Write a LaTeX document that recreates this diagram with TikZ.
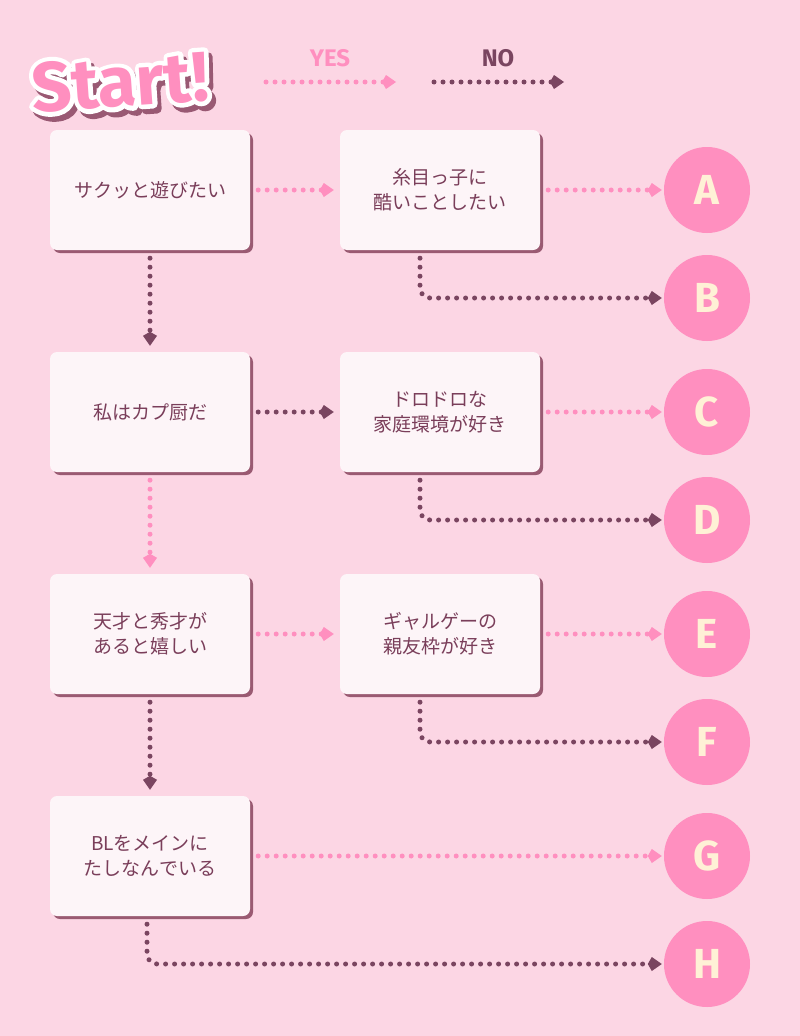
\documentclass[tikz,border=0pt]{standalone}
\usepackage{fontspec}
\setmainfont{Noto Sans CJK JP}
\newfontfamily\roundfont{Fira Sans}
\usetikzlibrary{arrows.meta,positioning,calc}
\definecolor{bgpink}{HTML}{FCD6E4}
\definecolor{yespink}{HTML}{FF8FBF}
\definecolor{nodark}{HTML}{7A4560}
\definecolor{boxfill}{HTML}{FDF5F8}
\definecolor{shadowc}{HTML}{9A5A72}
\definecolor{txtc}{HTML}{7A3E5A}
\definecolor{cream}{HTML}{FFF1D6}
% stroked text: #1 mode, #2 width, #3 stroke rgb, #4 text
\newcommand\strokedtext[4]{\special{pdf:code q #1 Tr #2 w #3 RG 1 j}#4\special{pdf:code Q}}

\begin{document}
\begin{tikzpicture}
    [x=1pt,y=-1pt,
    question/.style={draw=none, fill=boxfill, rounded corners=7pt,
      minimum width=200pt, minimum height=120pt, align=center,
      text=txtc, font=\fontsize{19}{25}\selectfont},
    boxshadow/.style={fill=shadowc, rounded corners=7pt},
    answer/.style={circle, fill=yespink, minimum size=86pt, inner sep=0pt,
      text=cream, font=\roundfont\bfseries\fontsize{42}{42}\selectfont},
    logofont/.style={font=\roundfont\bfseries\fontsize{70}{70}\selectfont, rotate=4},
    yes/.style={draw=yespink, line width=5pt, line cap=round,
      dash pattern=on 0pt off 9pt, -{Kite[length=14pt,width=14pt,inset=4pt,fill=yespink,line width=0pt,sep=2pt]}},
    no/.style={draw=nodark, line width=5pt, line cap=round,
      dash pattern=on 0pt off 9pt, -{Kite[length=14pt,width=14pt,inset=4pt,fill=nodark,line width=0pt,sep=2pt]}}]

  \fill[bgpink] (0,0) rectangle (800,1036);
  \useasboundingbox (0,0) rectangle (800,1036);

  % logo and legend
  \node[text=shadowc, logofont] (logoshadow) at (124,87) {\strokedtext{2}{9}{0.6 0.35 0.45}{Start!}};
  \node[logofont] (logoline) at (120,82) {\strokedtext{1}{9}{1 1 1}{Start!}};
  \node[text=yespink, logofont] (logo) at (120,82) {Start!};
  \node[text=yespink, font=\roundfont\bfseries\fontsize{24}{24}\selectfont] (yeslbl) at (330,58) {YES};
  \node[text=nodark, font=\roundfont\bfseries\fontsize{24}{24}\selectfont] (nolbl) at (498,58) {NO};
  \coordinate (ys) at (266,82); \coordinate (ye) at (398,82);
  \coordinate (ns) at (434,82); \coordinate (ne) at (566,82);
  \draw[yes] (ys) -- (ye);
  \draw[no] (ns) -- (ne);

  % shadows
  \foreach \x/\y in {150/190,150/412,150/634,150/856,440/190,440/412,440/634}
    \fill[boxshadow] (\x-97,\y-57) rectangle (\x+103,\y+63);

  % questions
  \node[question] (q1) at (150,190) {サクッと遊びたい};
  \node[question] (q2) at (440,190) {糸目っ子に\\酷いことしたい};
  \node[question] (q3) at (150,412) {私はカプ厨だ};
  \node[question] (q4) at (440,412) {ドロドロな\\家庭環境が好き};
  \node[question] (q5) at (150,634) {天才と秀才が\\あると嬉しい};
  \node[question] (q6) at (440,634) {ギャルゲーの\\親友枠が好き};
  \node[question] (q7) at (150,856) {BLをメインに\\たしなんでいる};

  % answers
  \node[answer] (a) at (707,190) {A};
  \node[answer] (b) at (707,298) {B};
  \node[answer] (c) at (707,412) {C};
  \node[answer] (d) at (707,520) {D};
  \node[answer] (e) at (707,634) {E};
  \node[answer] (f) at (707,742) {F};
  \node[answer] (g) at (707,856) {G};
  \node[answer] (h) at (707,964) {H};

  \draw[yes] ([xshift=8pt]q1.east) -- ([xshift=-4pt]q2.west);
  \draw[yes] ([xshift=8pt]q2.east) -- (a);
  \draw[yes] ([xshift=8pt]q4.east) -- (c);
  \draw[yes] ([xshift=8pt]q6.east) -- (e);
  \draw[yes] ([xshift=8pt]q7.east) -- (g);
  \draw[no] ([xshift=8pt]q3.east) -- ([xshift=-4pt]q4.west);
  \draw[yes] ([xshift=8pt]q5.east) -- ([xshift=-4pt]q6.west);
  \draw[no] ([yshift=-8pt]q1.south) -- ([yshift=4pt]q3.north);
  \draw[yes] ([yshift=-8pt]q3.south) -- ([yshift=4pt]q5.north);
  \draw[no] ([yshift=-8pt]q5.south) -- ([yshift=4pt]q7.north);
  \draw[no, rounded corners=10pt] ([xshift=-20pt,yshift=-8pt]q2.south) |- (b);
  \draw[no, rounded corners=10pt] ([xshift=-20pt,yshift=-8pt]q4.south) |- (d);
  \draw[no, rounded corners=10pt] ([xshift=-20pt,yshift=-8pt]q6.south) |- (f);
  \draw[no, rounded corners=10pt] ([xshift=-3pt,yshift=-8pt]q7.south) |- (h);
\end{tikzpicture}
\end{document}
